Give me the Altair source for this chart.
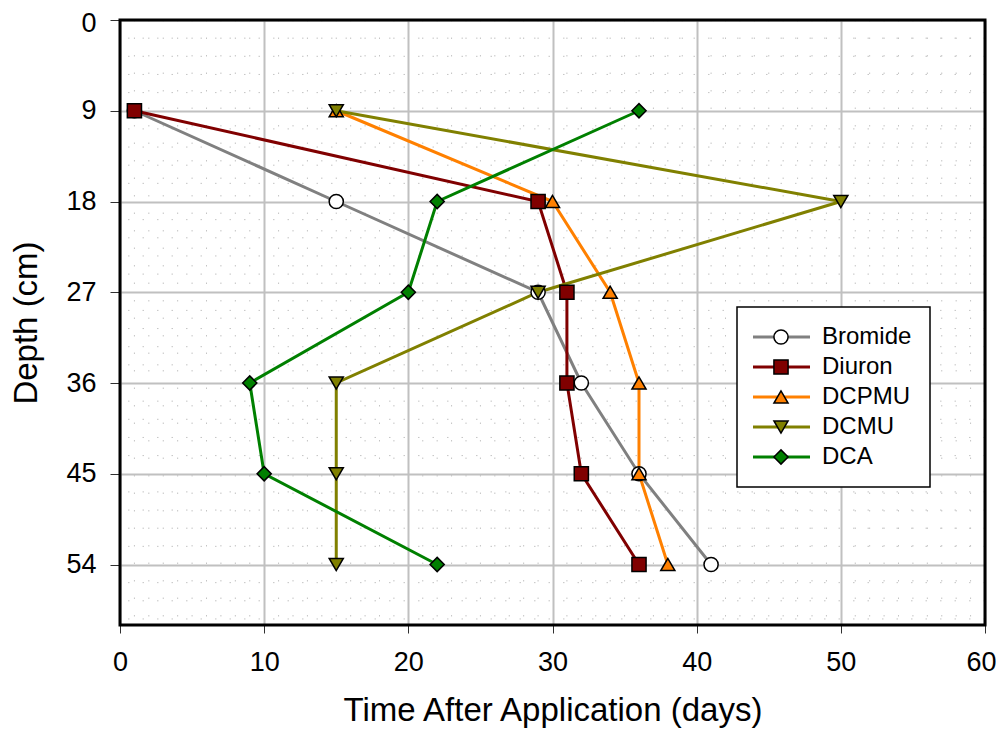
import altair as alt
import pandas as pd

series = ["Bromide", "Diuron", "DCPMU", "DCMU", "DCA"]
depth = [9, 18, 27, 36, 45, 54]
bromide = [1, 15, 29, 32, 36, 41]
diuron = [1, 29, 31, 31, 32, 36]
dcpmu = [15, 30, 34, 36, 36, 38]
dcmu = [15, 50, 29, 15, 15, 15]
dca = [36, 22, 20, 9, 10, 22]

x_ticks = [0, 10, 20, 30, 40, 50, 60]
y_ticks = [0, 9, 18, 27, 36, 45, 54]

line_colors = ["#808080", "#800000", "#FF8000", "#808000", "#008000"]
fill_colors = ["#FFFFFF", "#800000", "#FF8000", "#808000", "#008000"]
shapes = ["circle", "square", "triangle-up", "triangle-down", "diamond"]

vals = [bromide, diuron, dcpmu, dcmu, dca]
rows = []
for s, v in zip(series, vals):
    for d, t in zip(depth, v):
        rows.append({"series": s, "depth": d, "time": t})
df = pd.DataFrame(rows)

W, H = 865, 605
FONT = "Liberation Sans"
xscale = alt.Scale(domain=[0, 60], nice=False)
yscale = alt.Scale(domain=[0, 60], reverse=True, nice=False)

color_scale = alt.Scale(domain=series, range=line_colors)
fill_scale = alt.Scale(domain=series, range=fill_colors)
shape_scale = alt.Scale(domain=series, range=shapes)

common_axis = dict(grid=True, gridColor="#c0c0c0", gridWidth=2, domain=False,
                   tickColor="#303030", tickWidth=1, labelFlush=False,
                   labelFontSize=27, labelColor="black", labelFont=FONT,
                   titleFontSize=33, titleFontWeight="normal", titleColor="black", titleFont=FONT)
x_axis = alt.Axis(values=x_ticks, title="Time After Application (days)", tickSize=8,
                  labelPadding=16, titlePadding=19,
                  labelAlign=alt.condition("datum.value == 60", alt.value("right"), alt.value("center")),
                  labelOffset=alt.condition("datum.value == 60", alt.value(11), alt.value(0)),
                  **common_axis)
y_axis = alt.Axis(values=y_ticks, title="Depth (cm)", tickSize=10,
                  labelPadding=14, titlePadding=22,
                  labelOffset=alt.condition("datum.value == 0", alt.value(3), alt.value(0)),
                  **common_axis)

# minor dotted grid
minor_x = pd.DataFrame({"v": [i for i in range(1, 60) if i % 10 != 0]})
minor_y = pd.DataFrame({"v": [round(i * 1.8, 2) for i in range(1, 34) if i % 5 != 0]})

mx = alt.Chart(minor_x).mark_rule(color="#c4c4c4", strokeWidth=1, strokeDash=[1.5, 16]).encode(
    x=alt.X("v:Q", scale=xscale, axis=x_axis))
my = alt.Chart(minor_y).mark_rule(color="#c4c4c4", strokeWidth=1, strokeDash=[1.5, 13]).encode(
    y=alt.Y("v:Q", scale=yscale, axis=y_axis))

base = alt.Chart(df)
lines = base.mark_line(strokeWidth=3).encode(
    x=alt.X("time:Q", scale=xscale),
    y=alt.Y("depth:Q", scale=yscale),
    color=alt.Color("series:N", scale=color_scale, legend=None),
    detail="series:N",
    order="depth:Q",
)
points = base.mark_point(filled=True, size=200, stroke="black", strokeWidth=1.5, opacity=1).encode(
    x=alt.X("time:Q", scale=xscale),
    y=alt.Y("depth:Q", scale=yscale),
    fill=alt.Fill("series:N", scale=fill_scale, legend=None),
    shape=alt.Shape("series:N", scale=shape_scale, legend=None),
)

# plot frame
frame = alt.Chart(pd.DataFrame({"a": [0]})).mark_rect(fill=None, filled=False, stroke="black", strokeWidth=3).encode(
    x=alt.value(0), x2=alt.value(W), y=alt.value(0), y2=alt.value(H))

# custom legend
leg = pd.DataFrame({"series": series})
ly = alt.Y("series:N", sort=series,
           scale=alt.Scale(type="point", domain=series, range=[317, 437], padding=0), axis=None)
box = alt.Chart(pd.DataFrame({"a": [0]})).mark_rect(fill="white", stroke="black", strokeWidth=1.5).encode(
    x=alt.value(617), x2=alt.value(810), y=alt.value(287), y2=alt.value(467))
leg_line = alt.Chart(leg).mark_rule(strokeWidth=3).encode(
    x=alt.value(633), x2=alt.value(690), y=ly,
    color=alt.Color("series:N", scale=color_scale, legend=None))
leg_pt = alt.Chart(leg).mark_point(filled=True, size=200, stroke="black", strokeWidth=1.5, opacity=1).encode(
    x=alt.value(661), y=ly,
    fill=alt.Fill("series:N", scale=fill_scale, legend=None),
    shape=alt.Shape("series:N", scale=shape_scale, legend=None))
leg_txt = alt.Chart(leg).mark_text(align="left", baseline="middle", fontSize=24, font=FONT,
                                   color="black").encode(
    x=alt.value(702), y=ly, text="series:N")
legend = alt.layer(box, leg_line, leg_pt, leg_txt)

main = alt.layer(mx, my, lines, points, frame)

chart = alt.layer(main, legend).resolve_scale(y="independent").properties(
    width=W, height=H,
    autosize=alt.AutoSizeParams(type="none"),
    padding={"left": 112, "top": 12, "right": 11, "bottom": 105},
).configure(background="white").configure_view(stroke=None)

chart.save("out.html", embed_options={"renderer": "svg", "actions": False})
